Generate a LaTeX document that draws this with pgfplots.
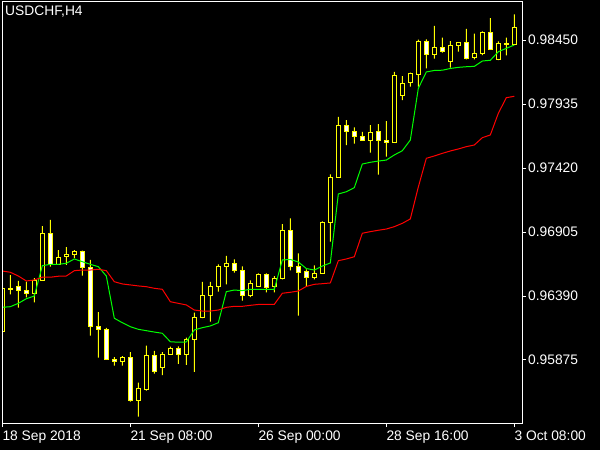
\documentclass[border=0pt]{standalone}
\usepackage{pgfplots}
\pgfplotsset{compat=1.18}
\usepackage{pgfplotstable}
\usepackage{fontspec}
\setmainfont{Liberation Sans}
\definecolor{mtyellow}{RGB}{255,255,0}
\definecolor{mtgreen}{RGB}{0,255,0}
\definecolor{mtred}{RGB}{255,0,0}

\pgfplotstableread{
i O H L C G R
0 0.96103 0.96452 0.96103 0.96452 0.96299 0.96591
1 0.96454 0.96559 0.96404 0.96441 0.96304 0.96581
2 0.96468 0.96511 0.96296 0.96434 0.96331 0.96551
3 0.96438 0.96505 0.96378 0.96409 0.96368 0.96511
4 0.96410 0.96533 0.96338 0.96515 0.96390 0.96519
5 0.96515 0.96953 0.96515 0.96895 0.96634 0.96541
6 0.96895 0.97002 0.96626 0.96645 0.96645 0.96541
7 0.96645 0.96760 0.96645 0.96702 0.96645 0.96549
8 0.96706 0.96784 0.96640 0.96728 0.96653 0.96551
9 0.96726 0.96760 0.96694 0.96752 0.96688 0.96594
10 0.96752 0.96756 0.96553 0.96618 0.96666 0.96599
11 0.96618 0.96680 0.96071 0.96143 0.96645 0.96599
12 0.96145 0.96261 0.95894 0.96119 0.96626 0.96605
13 0.96120 0.96133 0.95881 0.95881 0.96551 0.96594
14 0.95883 0.95899 0.95829 0.95861 0.96211 0.96505
15 0.95861 0.95907 0.95829 0.95897 0.96175 0.96487
16 0.95897 0.95939 0.95540 0.95548 0.96143 0.96479
17 0.95548 0.95692 0.95419 0.95642 0.96122 0.96471
18 0.95634 0.95990 0.95628 0.95915 0.96111 0.96465
19 0.95915 0.95948 0.95765 0.95781 0.96100 0.96452
20 0.95815 0.95939 0.95754 0.95923 0.96090 0.96444
21 0.95921 0.95982 0.95921 0.95964 0.96022 0.96344
22 0.95964 0.95984 0.95843 0.95921 0.96018 0.96331
23 0.95921 0.96056 0.95835 0.96042 0.96020 0.96318
24 0.96042 0.96256 0.95779 0.96219 0.96117 0.96277
25 0.96217 0.96503 0.96211 0.96396 0.96135 0.96269
26 0.96396 0.96503 0.96183 0.96468 0.96149 0.96269
27 0.96468 0.96645 0.96425 0.96629 0.96175 0.96277
28 0.96629 0.96712 0.96484 0.96653 0.96425 0.96299
29 0.96653 0.96685 0.96578 0.96597 0.96438 0.96307
30 0.96597 0.96629 0.96352 0.96396 0.96433 0.96307
31 0.96396 0.96516 0.96380 0.96492 0.96444 0.96315
32 0.96468 0.96573 0.96468 0.96565 0.96444 0.96322
33 0.96565 0.96573 0.96420 0.96460 0.96444 0.96323
34 0.96468 0.96549 0.96420 0.96533 0.96444 0.96323
35 0.96533 0.96969 0.96524 0.96919 0.96680 0.96412
36 0.96919 0.97015 0.96597 0.96629 0.96684 0.96420
37 0.96629 0.96734 0.96232 0.96581 0.96664 0.96430
38 0.96589 0.96605 0.96468 0.96541 0.96611 0.96467
39 0.96541 0.96637 0.96524 0.96573 0.96599 0.96484
40 0.96573 0.96991 0.96573 0.96983 0.96631 0.96489
41 0.96983 0.97369 0.96827 0.97345 0.96656 0.96495
42 0.97345 0.97831 0.97345 0.97764 0.97211 0.96674
43 0.97764 0.97806 0.97605 0.97712 0.97229 0.96688
44 0.97715 0.97748 0.97616 0.97672 0.97262 0.96706
45 0.97674 0.97710 0.97640 0.97640 0.97452 0.96895
46 0.97640 0.97766 0.97543 0.97707 0.97466 0.96908
47 0.97714 0.97774 0.97366 0.97640 0.97476 0.96919
48 0.97643 0.97798 0.97511 0.97624 0.97484 0.96929
49 0.97624 0.98193 0.97624 0.98166 0.97525 0.96948
50 0.98005 0.98160 0.97967 0.98102 0.97559 0.96975
51 0.98107 0.98187 0.98074 0.98177 0.97645 0.97010
52 0.98171 0.98454 0.98074 0.98440 0.98061 0.97267
53 0.98440 0.98456 0.98221 0.98333 0.98193 0.97498
54 0.98333 0.98563 0.98300 0.98391 0.98205 0.97517
55 0.98391 0.98469 0.98348 0.98356 0.98207 0.97538
56 0.98276 0.98442 0.98227 0.98408 0.98221 0.97557
57 0.98408 0.98432 0.98356 0.98432 0.98230 0.97573
58 0.98432 0.98539 0.98295 0.98303 0.98235 0.97592
59 0.98308 0.98501 0.98295 0.98343 0.98238 0.97605
60 0.98343 0.98520 0.98329 0.98512 0.98281 0.97664
61 0.98512 0.98627 0.98372 0.98372 0.98287 0.97686
62 0.98295 0.98440 0.98289 0.98424 0.98356 0.97860
63 0.98424 0.98469 0.98327 0.98416 0.98383 0.97986
64 0.98416 0.98657 0.98416 0.98552 0.98410 0.97997
}\bars

\tikzset{mtfont/.style={font=\fontsize{13.8bp}{16bp}\selectfont}}
\pgfplotsset{
  mtbase/.style={
    at={(2bp,27bp)}, anchor=south west,
    scale only axis, width=520bp, height=421bp,
    xmin=-0.04, xmax=64.96, ymin=0.95368, ymax=0.98756,
    enlargelimits=false,
  },
}

\begin{document}
\begin{tikzpicture}
\fill[black] (0,0) rectangle (600bp,450bp);
% wicks
\begin{axis}[mtbase, hide axis, ybar stacked, bar width=1bp]
\addplot[draw=none, fill=none] table[x=i, y=L] {\bars};
\addplot[draw=none, fill=mtyellow] table[x=i, y expr={\thisrow{H}-\thisrow{L}}] {\bars};
\end{axis}
% bodies
\begin{axis}[mtbase, hide axis, ybar stacked, bar width=3.8bp]
\addplot[draw=none, fill=none] table[x=i, y expr={min(\thisrow{O},\thisrow{C})}] {\bars};
\addplot[draw=mtyellow, fill=black, line width=1bp] table[x=i, y expr={max(\thisrow{C}-\thisrow{O},0)}] {\bars};
\addplot[draw=mtyellow, fill=white, line width=1bp] table[x=i, y expr={max(\thisrow{O}-\thisrow{C},0)}] {\bars};
\end{axis}
% lines, frame, ticks
\begin{axis}[mtbase, axis on top,
  axis line style={white, line width=1bp},
  tick style={white, line width=1bp},
  major tick length=4bp, tick align=outside,
  xtick pos=bottom, ytick pos=right, yticklabel pos=right,
  xtick={0,16,32,48,64},
  xticklabels={18 Sep 2018, 21 Sep 08:00, 26 Sep 00:00, 28 Sep 16:00, 3 Oct 08:00},
  ytick={0.95875,0.96390,0.96905,0.97420,0.97935,0.98450},
  yticklabels={0.95875,0.96390,0.96905,0.97420,0.97935,0.98450},
  minor tick num=0,
  ticklabel style={text=white, mtfont},
  xticklabel style={anchor=north west, inner sep=0pt, yshift=-4bp},
  yticklabel style={anchor=west, inner sep=0pt, xshift=2bp},
]
\addplot[mtgreen, line width=1bp, mark=none] table[x=i, y=G] {\bars};
\addplot[mtred, line width=1bp, mark=none] table[x=i, y=R] {\bars};
\node[anchor=north west, inner sep=0pt, text=white, mtfont, xshift=3bp, yshift=-4bp] at (rel axis cs:0,1) {USDCHF,H4};
\end{axis}
\end{tikzpicture}
\end{document}
